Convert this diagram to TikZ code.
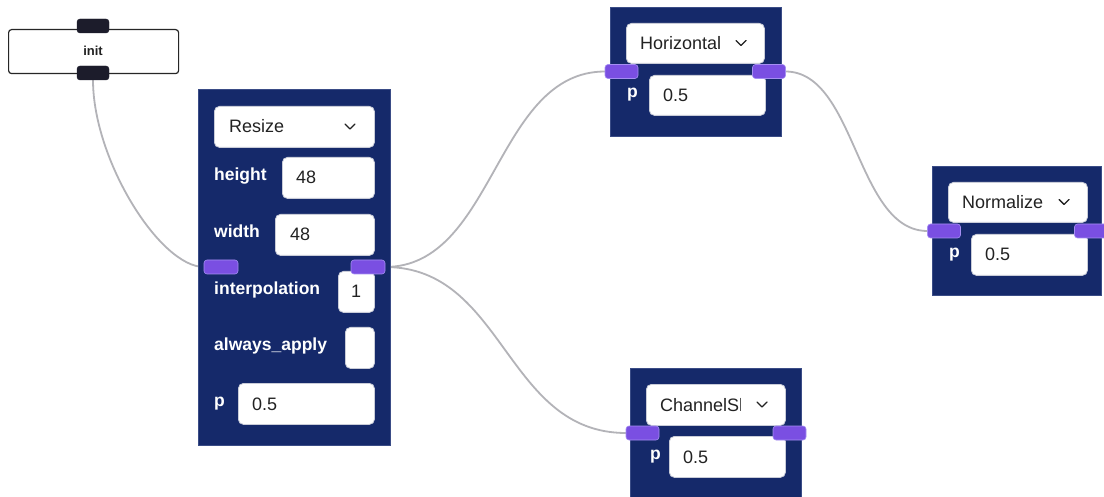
\documentclass[tikz,border=0pt]{standalone}
\usepackage{fontspec}
\setmainfont{Liberation Sans}
\definecolor{nodeblue}{HTML}{15296A}
\definecolor{nodeedge}{HTML}{3A4C86}
\definecolor{handlefill}{HTML}{7A4FE2}
\definecolor{handleedge}{HTML}{A58EF2}
\definecolor{fieldedge}{HTML}{C9CCD8}
\definecolor{wire}{HTML}{B3B3B8}
\definecolor{initdark}{HTML}{1C1C2B}
\definecolor{txt}{HTML}{222222}
\tikzset{
  panel/.style={draw=nodeedge, fill=nodeblue, line width=0.8pt, inner sep=0pt, anchor=north west},
  field/.style={draw=fieldedge, fill=white, rounded corners=5pt, line width=0.8pt, inner sep=0pt, anchor=north west},
  handle/.style={fill=handlefill, draw=handleedge, rounded corners=3pt, line width=0.6pt, minimum width=33pt, minimum height=14pt, inner sep=0pt},
  darkhandle/.style={fill=initdark, draw=initdark, rounded corners=3pt, minimum width=32pt, minimum height=14pt, inner sep=0pt},
  lbl/.style={text=white, font=\bfseries\fontsize{17.5}{20}\selectfont, anchor=base west, inner sep=0pt},
  val/.style={text=txt, font=\fontsize{18}{21}\selectfont, anchor=base west, inner sep=0pt},
  chev/.style={draw=txt, line width=1.4pt, line cap=round, line join=round},
  wirestyle/.style={draw=wire, line width=1.8pt}
}
\begin{document}
\begin{tikzpicture}[x=1pt,y=-1pt]
\useasboundingbox (0,0) rectangle (1104,497);
\fill[white] (0,0) rectangle (1104,497);

% ---------- connectors (behind) ----------
\coordinate (initBotPt) at (93,80);
\coordinate (rszLPt) at (204,267);
\coordinate (rszRPt) at (385,267);
\coordinate (horLPt) at (605,71.5);
\coordinate (horRPt) at (785.5,71.5);
\coordinate (norLPt) at (927.5,231);
\coordinate (chsLPt) at (626,433);
\draw[wirestyle] (initBotPt) .. controls (93,160) and (160,267) .. (rszLPt);
\draw[wirestyle] (rszRPt) .. controls (495,267) and (495,71.5) .. (horLPt);
\draw[wirestyle] (rszRPt) .. controls (505,267) and (505,433) .. (chsLPt);
\draw[wirestyle] (horRPt) .. controls (856,71.5) and (856,231) .. (norLPt);

% ---------- init ----------
\node[draw=black!85, fill=white, line width=1.2pt, rounded corners=3pt, minimum width=170pt, minimum height=44pt, inner sep=0pt, anchor=north west] (init) at (8,29) {};
\node[font=\bfseries\fontsize{13}{15}\selectfont, text=txt] (initlbl) at (93,51) {init};
\node[darkhandle] (initTop) at (93,26) {};
\node[darkhandle] (initBot) at (93,73) {};

% ---------- Resize ----------
\node[panel, minimum width=192pt, minimum height=356pt] (rsz) at (198,89) {};
\node[field, minimum width=160pt, minimum height=41pt] (rszdd) at (214,106) {};
\node[val] (rszddt) at (229,133) {Resize};
\draw[chev] (345,124) -- (350,129) -- (355,124);
\node[lbl] (lh) at (214,180.5) {height};
\node[field, minimum width=92pt, minimum height=41pt] (fh) at (282,157) {};
\node[val] (vh) at (296,184) {48};
\node[lbl] (lw) at (214,237.5) {width};
\node[field, minimum width=99pt, minimum height=41pt] (fw) at (275,214) {};
\node[val] (vw) at (290,241) {48};
\node[lbl] (li) at (214,294.5) {interpolation};
\node[field, minimum width=36pt, minimum height=41pt] (fi) at (338,271) {};
\node[val] (vi) at (351,298) {1};
\node[lbl] (la) at (214,350.5) {always\_apply};
\node[field, minimum width=29pt, minimum height=41pt] (fa) at (345,327) {};
\node[lbl] (lp) at (214,406.5) {p};
\node[field, minimum width=136pt, minimum height=41pt] (fp) at (238,383) {};
\node[val] (vp) at (252,410) {0.5};
\node[handle, minimum width=34pt] (rszL) at (221,267) {};
\node[handle, minimum width=34pt] (rszR) at (368,267) {};

% ---------- Horizontal ----------
\node[panel, minimum width=171pt, minimum height=129pt] (hor) at (610,7) {};
\node[field, minimum width=138pt, minimum height=40pt] (hordd) at (626,23) {};
\node[val] (horddt) at (640,49.5) {Horizontal};
\draw[chev] (736,40.5) -- (741,45.5) -- (746,40.5);
\node[lbl] (horp) at (627,98) {p};
\node[field, minimum width=116pt, minimum height=40pt] (horf) at (649,75) {};
\node[val] (horv) at (663,101.5) {0.5};
\node[handle] (horL) at (621.5,71.5) {};
\node[handle] (horR) at (769,71.5) {};

% ---------- Normalize ----------
\node[panel, minimum width=169pt, minimum height=129pt] (nor) at (932,166) {};
\node[field, minimum width=139pt, minimum height=40pt] (nordd) at (948,182) {};
\node[val] (norddt) at (962,208.5) {Normalize};
\draw[chev] (1059,199.5) -- (1064,204.5) -- (1069,199.5);
\node[lbl] (norp) at (949,257.5) {p};
\node[field, minimum width=116pt, minimum height=41pt] (norf) at (971,234) {};
\node[val] (norv) at (985,261) {0.5};
\node[handle] (norL) at (944,231) {};
\node[handle] (norR) at (1091,231) {};

% ---------- ChannelShuffle ----------
\node[panel, minimum width=171pt, minimum height=135pt] (chs) at (630,368) {};
\node[field, minimum width=139pt, minimum height=41pt] (chsdd) at (646,384) {};
\begin{scope}
\clip (650,390) rectangle (740,420);
\node[val] (chsddt) at (660,411) {ChannelShuffle};
\end{scope}
\draw[chev] (757,402) -- (762,407) -- (767,402);
\node[lbl] (chsp) at (650,459.5) {p};
\node[field, minimum width=116pt, minimum height=41pt] (chsf) at (669,436) {};
\node[val] (chsv) at (683,463) {0.5};
\node[handle] (chsL) at (642.5,433) {};
\node[handle] (chsR) at (789.5,433) {};
\end{tikzpicture}
\end{document}
